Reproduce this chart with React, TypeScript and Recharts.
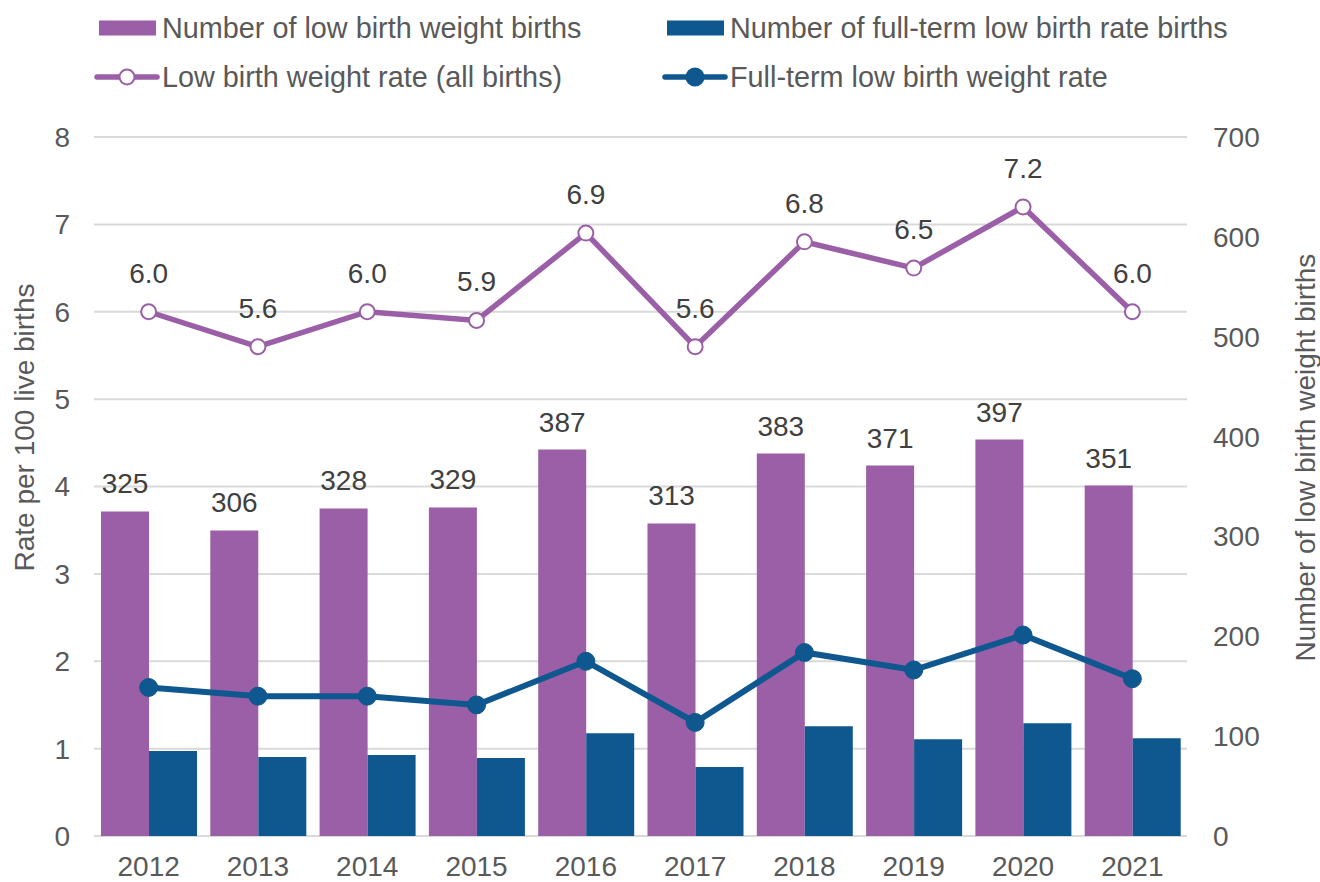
import React from 'react';
import { ComposedChart, Bar, Line, XAxis, YAxis, CartesianGrid, LabelList } from 'recharts';

const years = ['2012', '2013', '2014', '2015', '2016', '2017', '2018', '2019', '2020', '2021'];
const lowBirthWeightBirths = [325, 306, 328, 329, 387, 313, 383, 371, 397, 351];
const fullTermLowBirthWeightBirths = [85, 79, 81, 78, 103, 69, 110, 97, 113, 98];
const lowBirthWeightRate = [6.0, 5.6, 6.0, 5.9, 6.9, 5.6, 6.8, 6.5, 7.2, 6.0];
const fullTermLowBirthWeightRate = [1.7, 1.6, 1.6, 1.5, 2.0, 1.3, 2.1, 1.9, 2.3, 1.8];
const leftTicks = [0, 1, 2, 3, 4, 5, 6, 7, 8];
const rightTicks = [0, 100, 200, 300, 400, 500, 600, 700];

const PURPLE = '#9B5FA7';
const BLUE = '#0E578F';
const TEXT = '#595959';
const LABEL = '#404040';
const GRID = '#D9D9D9';
const FONT = '"Liberation Sans", Arial, sans-serif';
const FS = 28;
const LEGEND_FS = 28.8;

const data = years.map((year, i) => ({
  year,
  lbwBirths: lowBirthWeightBirths[i],
  ftBirths: fullTermLowBirthWeightBirths[i],
  lbwRate: lowBirthWeightRate[i],
  ftRate: fullTermLowBirthWeightRate[i],
}));

const legendItems = [
  { label: 'Number of low birth weight births', color: PURPLE, kind: 'bar' },
  { label: 'Number of full-term low birth rate births', color: BLUE, kind: 'bar' },
  { label: 'Low birth weight rate (all births)', color: PURPLE, kind: 'hollow' },
  { label: 'Full-term low birth weight rate', color: BLUE, kind: 'filled' },
];

const legendCols = [97, 665];
const legendRows = [28, 77];

function ChartLegend() {
  return (
    <svg width={1320} height={110} style={{ position: 'absolute', left: 0, top: 0 }}>
      {legendItems.map((it, i) => {
        const x = legendCols[i % 2];
        const cy = legendRows[Math.floor(i / 2)];
        return (
          <g key={it.label}>
            {it.kind === 'bar' ? (
              <rect x={x + 2} y={cy - 7.5} width={57} height={15} fill={it.color} />
            ) : (
              <g>
                <line x1={x} x2={x + 60} y1={cy} y2={cy} stroke={it.color} strokeWidth={5.5} strokeLinecap="round" />
                <circle cx={x + 30} cy={cy} r={it.kind === 'hollow' ? 7.5 : 8.5} fill={it.kind === 'hollow' ? '#fff' : it.color} stroke={it.color} strokeWidth={2} />
              </g>
            )}
            <text x={x + 65} y={cy + 10} fontSize={LEGEND_FS} fontFamily={FONT} fill={TEXT}>{it.label}</text>
          </g>
        );
      })}
    </svg>
  );
}

const leftTitle = (props: any) => {
  const vb = props.viewBox;
  const x = vb.x + 24;
  const y = vb.y + vb.height / 2 - 59;
  return (
    <text x={x} y={y} transform={`rotate(-90, ${x}, ${y})`} textAnchor="middle" dominantBaseline="central" fontSize={FS} fontFamily={FONT} fill={TEXT}>
      Rate per 100 live births
    </text>
  );
};

const rightTitle = (props: any) => {
  const vb = props.viewBox;
  const x = vb.x + 118;
  const y = vb.y + vb.height / 2 - 29;
  return (
    <text x={x} y={y} transform={`rotate(-90, ${x}, ${y})`} textAnchor="middle" dominantBaseline="central" fontSize={FS} fontFamily={FONT} fill={TEXT}>
      Number of low birth weight births
    </text>
  );
};

export default function App() {
  return (
    <div style={{ position: 'absolute', left: 0, top: 0, width: 1320, height: 882, background: '#fff' }}>
      <ComposedChart
        width={1320}
        height={882}
        data={data}
        margin={{ top: 137, right: 0, bottom: 0, left: 0 }}
        barGap={0}
        barSize={48}
      >
        <CartesianGrid yAxisId="left" vertical={false} stroke={GRID} strokeWidth={2} />
        <XAxis
          dataKey="year"
          height={46}
          axisLine={false}
          tickLine={false}
          tickSize={0}
          tickMargin={20}
          tick={{ fontSize: FS, fontFamily: FONT, fill: TEXT }}
        />
        <YAxis
          yAxisId="left"
          orientation="left"
          width={94}
          domain={[0, 8]}
          ticks={leftTicks}
          axisLine={false}
          tickLine={false}
          tickSize={0}
          tickMargin={24}
          tick={{ fontSize: FS, fontFamily: FONT, fill: TEXT }}
          label={{ content: leftTitle }}
        />
        <YAxis
          yAxisId="right"
          orientation="right"
          width={133}
          domain={[0, 700]}
          ticks={rightTicks}
          axisLine={false}
          tickLine={false}
          tickSize={0}
          tickMargin={26}
          tick={{ fontSize: FS, fontFamily: FONT, fill: TEXT, textAnchor: 'start' }}
          label={{ content: rightTitle }}
        />
        <Bar yAxisId="right" dataKey="lbwBirths" fill={PURPLE} isAnimationActive={false}>
          <LabelList dataKey="lbwBirths" position="top" offset={18} fontSize={FS} fontFamily={FONT} fill={LABEL} />
        </Bar>
        <Bar yAxisId="right" dataKey="ftBirths" fill={BLUE} isAnimationActive={false} />
        <Line
          yAxisId="left"
          dataKey="lbwRate"
          stroke={PURPLE}
          strokeWidth={5.5}
          dot={{ r: 7.5, fill: '#fff', stroke: PURPLE, strokeWidth: 2 }}
          isAnimationActive={false}
        >
          <LabelList
            dataKey="lbwRate"
            position="top"
            offset={29}
            fontSize={FS}
            fontFamily={FONT}
            fill={LABEL}
            formatter={(v: any) => Number(v).toFixed(1)}
          />
        </Line>
        <Line
          yAxisId="left"
          dataKey="ftRate"
          stroke={BLUE}
          strokeWidth={6}
          dot={{ r: 9, fill: BLUE, stroke: BLUE, strokeWidth: 1 }}
          isAnimationActive={false}
        />
      </ComposedChart>
      <ChartLegend />
    </div>
  );
}
